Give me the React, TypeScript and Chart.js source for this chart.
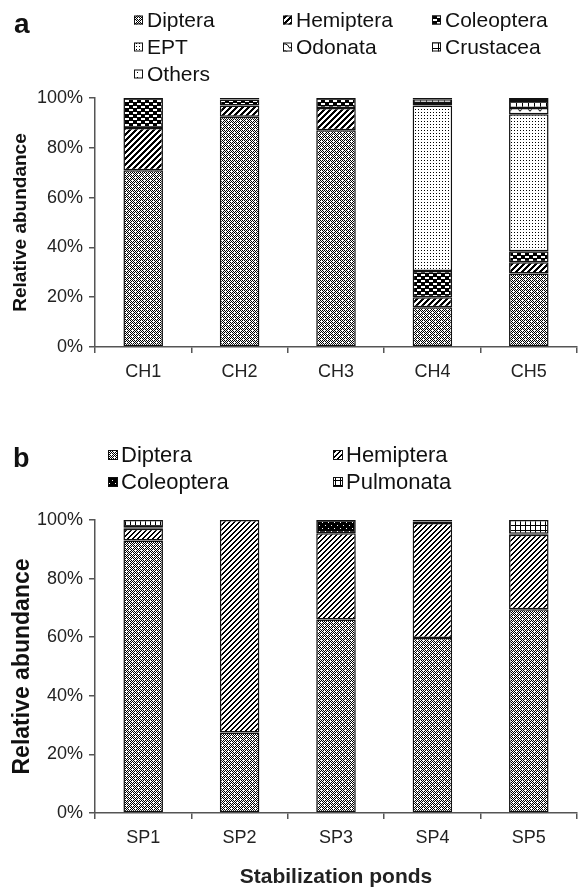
import { useEffect, useRef } from 'react';
import { Chart, registerables } from 'chart.js';

Chart.register(...registerables);

// ---------- Data: panel a (channels) ----------
const chCategories = ['CH1', 'CH2', 'CH3', 'CH4', 'CH5'];
const chDiptera = [71, 92.5, 87, 16, 29.5];
const chHemiptera = [17, 4.5, 9, 4, 4.5];
const chColeoptera = [12, 2.4, 4, 10.5, 4.5];
const chEPT = [0, 0, 0, 66.5, 55];
const chOdonata = [0, 0, 0, 1, 2.5];
const chCrustacea = [0, 0, 0, 1.5, 2.8];
const chOthers = [0, 0.6, 0, 0.5, 1.2];

// ---------- Data: panel b (stabilization ponds) ----------
const spCategories = ['SP1', 'SP2', 'SP3', 'SP4', 'SP5'];
const spDiptera = [93, 27.5, 66, 59.7, 69.5];
const spHemiptera = [4, 72.5, 29.5, 39.3, 25.5];
const spColeoptera = [0.5, 0, 4.5, 0.5, 0.3];
const spPulmonata = [2.5, 0, 0, 0.5, 4.7];

const yTickStep = 20;

const FONT = '"Liberation Sans", Arial, Helvetica, sans-serif';

type Draw = (c: CanvasRenderingContext2D) => void;

function tile(w: number, h: number, bg: string, draw: Draw): CanvasPattern {
  const cv = document.createElement('canvas');
  cv.width = w;
  cv.height = h;
  const c = cv.getContext('2d')!;
  c.fillStyle = bg;
  c.fillRect(0, 0, w, h);
  c.fillStyle = '#000';
  c.strokeStyle = '#000';
  draw(c);
  return c.createPattern(cv, 'repeat')!;
}

function makePatterns() {
  const px = (c: CanvasRenderingContext2D, x: number, y: number, col: string) => {
    c.fillStyle = col;
    c.fillRect(x, y, 1, 1);
  };
  const diptera = tile(6, 6, '#fff', (c) => {
    for (let y = 0; y < 6; y++) for (let x = 0; x < 6; x++) if ((x + y) % 2 === 0) px(c, x, y, '#000');
    px(c, 0, 0, '#fff');
    px(c, 3, 3, '#fff');
  });
  const hemipteraA = tile(6, 6, '#fff', (c) => {
    for (let y = 0; y < 6; y++) for (let x = 0; x < 6; x++) if ((x + y) % 6 < 3) px(c, x, y, '#000');
  });
  const hemipteraB = tile(5, 5, '#fff', (c) => {
    for (let y = 0; y < 5; y++) for (let x = 0; x < 5; x++) if ((x + y) % 5 < 2) px(c, x, y, '#000');
  });
  const coleopteraA = tile(8, 6, '#000', (c) => {
    c.fillStyle = '#fff';
    c.fillRect(1, 1, 4, 2);
    c.fillRect(5, 4, 3, 2);
    c.fillRect(0, 4, 1, 2);
  });
  const coleopteraB = tile(6, 6, '#000', (c) => {
    px(c, 1, 2, '#fff');
    px(c, 4, 5, '#fff');
  });
  const ept = tile(3, 3, '#fff', (c) => {
    px(c, 1, 1, '#000');
  });
  const odonata = tile(10, 7, '#fff', (c) => {
    c.lineWidth = 1;
    c.beginPath();
    c.moveTo(0, 6.5);
    c.quadraticCurveTo(5, -3, 10, 6.5);
    c.stroke();
  });
  const crustacea = tile(6, 6, '#fff', (c) => {
    c.fillRect(0, 0, 6, 1);
    c.fillRect(0, 0, 1, 6);
  });
  const others = tile(5, 5, '#fff', (c) => {
    px(c, 2, 2, '#000');
  });
  const pulmonata = tile(5, 5, '#fff', (c) => {
    c.fillRect(0, 0, 5, 1);
    c.fillRect(0, 0, 1, 5);
  });
  return { diptera, hemipteraA, hemipteraB, coleopteraA, coleopteraB, ept, odonata, crustacea, others, pulmonata };
}

const legendPlugin = {
  id: 'patternLegend',
  afterDraw(chart: any, _a: any, opts: any) {
    const { ctx } = chart;
    ctx.save();
    ctx.fillStyle = '#111';
    ctx.textBaseline = 'alphabetic';
    ctx.textAlign = 'left';
    ctx.font = `bold ${opts.letterSize}px ${FONT}`;
    ctx.fillText(opts.letter, opts.letterX, opts.letterY);
    ctx.font = `${opts.fontSize}px ${FONT}`;
    ctx.textBaseline = 'middle';
    chart.data.datasets.forEach((ds: any, i: number) => {
      const col = i % opts.columns.length;
      const row = Math.floor(i / opts.columns.length);
      const bx = opts.columns[col];
      const cy = opts.rows[row];
      const s = opts.box;
      ctx.fillStyle = ds.backgroundColor;
      ctx.fillRect(bx, cy - s / 2, s, s);
      ctx.strokeStyle = '#111';
      ctx.lineWidth = 1;
      ctx.strokeRect(bx + 0.5, cy - s / 2 + 0.5, s - 1, s - 1);
      ctx.fillStyle = '#111';
      ctx.fillText(ds.label, bx + s + opts.gap, cy + 1);
    });
    ctx.restore();
  },
};

interface Series {
  label: string;
  values: number[];
  pattern: CanvasPattern;
}

function buildConfig(p: {
  labels: string[];
  series: Series[];
  top: number;
  xHeight: number;
  yTitleSize: number;
  xTitle?: string;
  legend: any;
}): any {
  const axisColor = '#555';
  return {
    type: 'bar',
    data: {
      labels: p.labels,
      datasets: p.series.map((s) => ({
        label: s.label,
        data: s.values.map((v) => (v === 0 ? null : v)),
        backgroundColor: s.pattern,
        borderColor: '#111',
        borderWidth: 1.5,
        borderSkipped: false,
        barPercentage: 0.41,
        categoryPercentage: 1,
      })),
    },
    options: {
      responsive: false,
      animation: false,
      layout: { padding: { top: p.top, right: 2, left: 0, bottom: 0 } },
      plugins: {
        legend: { display: false },
        tooltip: { enabled: false },
        patternLegend: p.legend,
      },
      scales: {
        x: {
          stacked: true,
          grid: { display: true, drawOnChartArea: false, tickLength: 6, color: axisColor, lineWidth: 1.5, offset: true },
          border: { display: true, color: axisColor, width: 1.5 },
          ticks: { font: { family: FONT, size: 18 }, color: '#222', padding: 8 },
          title: p.xTitle
            ? { display: true, text: p.xTitle, font: { family: FONT, size: 21, weight: 'bold' }, color: '#222', padding: { top: 0, bottom: 0 } }
            : { display: false },
          afterFit(s: any) {
            s.height = p.xHeight;
          },
        },
        y: {
          stacked: true,
          min: 0,
          max: 100,
          ticks: {
            stepSize: yTickStep,
            callback: (v: any) => v + '%',
            font: { family: FONT, size: 18 },
            color: '#222',
            padding: 6,
          },
          grid: { drawOnChartArea: false, tickLength: 6, color: axisColor, lineWidth: 1.5 },
          border: { display: true, color: axisColor, width: 1.5 },
          title: {
            display: true,
            text: 'Relative abundance',
            font: { family: FONT, size: p.yTitleSize, weight: 'bold' },
            color: '#111',
            padding: { top: 9, bottom: 0 },
          },
          afterFit(s: any) {
            s.width = 95;
          },
        },
      },
    },
    plugins: [legendPlugin],
  };
}

const W = 579;
const H = 445;

export default function App() {
  const refA = useRef<HTMLCanvasElement>(null);
  const refB = useRef<HTMLCanvasElement>(null);

  useEffect(() => {
    document.body.style.margin = '0';
    const pt = makePatterns();
    const a = new Chart(
      refA.current!,
      buildConfig({
        labels: chCategories,
        series: [
          { label: 'Diptera', values: chDiptera, pattern: pt.diptera },
          { label: 'Hemiptera', values: chHemiptera, pattern: pt.hemipteraA },
          { label: 'Coleoptera', values: chColeoptera, pattern: pt.coleopteraA },
          { label: 'EPT', values: chEPT, pattern: pt.ept },
          { label: 'Odonata', values: chOdonata, pattern: pt.odonata },
          { label: 'Crustacea', values: chCrustacea, pattern: pt.crustacea },
          { label: 'Others', values: chOthers, pattern: pt.others },
        ],
        top: 98,
        xHeight: H - 347,
        yTitleSize: 19,
        legend: {
          letter: 'a',
          letterSize: 28,
          letterX: 14,
          letterY: 33,
          fontSize: 21,
          columns: [134, 283, 432],
          rows: [20, 47, 74],
          box: 9,
          gap: 4,
        },
      })
    );
    const b = new Chart(
      refB.current!,
      buildConfig({
        labels: spCategories,
        series: [
          { label: 'Diptera', values: spDiptera, pattern: pt.diptera },
          { label: 'Hemiptera', values: spHemiptera, pattern: pt.hemipteraB },
          { label: 'Coleoptera', values: spColeoptera, pattern: pt.coleopteraB },
          { label: 'Pulmonata', values: spPulmonata, pattern: pt.pulmonata },
        ],
        top: 520 - H,
        xHeight: H - (813 - H),
        yTitleSize: 23,
        xTitle: 'Stabilization ponds',
        legend: {
          letter: 'b',
          letterSize: 27,
          letterX: 13,
          letterY: 22,
          fontSize: 22,
          columns: [108, 333],
          rows: [10, 37],
          box: 10,
          gap: 3,
        },
      })
    );
    return () => {
      a.destroy();
      b.destroy();
    };
  }, []);

  return (
    <div style={{ width: W, background: '#fff' }}>
      <canvas ref={refA} width={W} height={H} style={{ display: 'block' }} />
      <canvas ref={refB} width={W} height={H} style={{ display: 'block' }} />
    </div>
  );
}
